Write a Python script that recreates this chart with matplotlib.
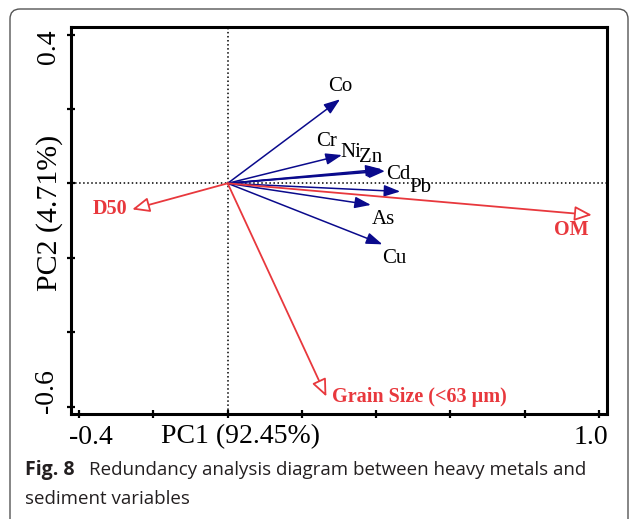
import matplotlib
matplotlib.use("Agg")
import matplotlib.pyplot as plt
from matplotlib.patches import FancyBboxPatch

# RDA loadings (PC1, PC2)
metals = ["Co", "Cr", "Ni", "Zn", "Cd", "Pb", "As", "Cu"]
metal_x = [0.303, 0.308, 0.415, 0.420, 0.424, 0.465, 0.386, 0.417]
metal_y = [0.226, 0.076, 0.038, 0.035, 0.033, -0.022, -0.058, -0.164]
# where the metal labels sit
metal_lx = [0.303, 0.266, 0.332, 0.386, 0.460, 0.520, 0.419, 0.449]
metal_ly = [0.260, 0.112, 0.084, 0.069, 0.023, -0.012, -0.096, -0.203]

env_vars = ["OM", "D50", "Grain Size (<63 \u00b5m)"]
env_x = [0.981, -0.257, 0.266]
env_y = [-0.085, -0.070, -0.573]
env_lx = [0.927, -0.318, 0.282]
env_ly = [-0.125, -0.070, -0.574]
env_ha = ["center", "center", "left"]

x_ticks = [-0.4, -0.2, 0.0, 0.2, 0.4, 0.6, 0.8, 1.0]
y_ticks = [-0.6, -0.4, -0.2, 0.0, 0.2, 0.4]

blue = "#0a0a8c"
red = "#e8383d"

fig = plt.figure(figsize=(6.3, 5.19), dpi=100)
ax = fig.add_axes([71 / 630, 105 / 519, 536 / 630, 387.3 / 519])
ax.set_xlim(-0.422, 1.022)
ax.set_ylim(-0.62, 0.421)

ax.axhline(0, color="black", ls=":", lw=1.1, zorder=1)
ax.axvline(0, color="black", ls=":", lw=1.1, zorder=1)

for name, x, y, lx, ly in zip(metals, metal_x, metal_y, metal_lx, metal_ly):
    ax.annotate("", xy=(x, y), xytext=(0, 0),
                arrowprops=dict(arrowstyle="-|>,head_length=0.7,head_width=0.25",
                                color=blue, lw=1.1, mutation_scale=14,
                                shrinkA=0, shrinkB=0))
    ax.text(lx, ly, name, ha="center", va="center", fontsize=15,
            family="Liberation Serif", color="black")

for name, x, y, lx, ly, ha in zip(env_vars, env_x, env_y, env_lx, env_ly, env_ha):
    ax.annotate("", xy=(x, y), xytext=(0, 0),
                arrowprops=dict(arrowstyle="-|>,head_length=0.7,head_width=0.3",
                                fc="white", ec=red, lw=1.3, mutation_scale=15,
                                shrinkA=0, shrinkB=0))
    ax.text(lx, ly, name, ha=ha, va="center", fontsize=14.5, fontweight="bold",
            family="Liberation Serif", color=red)

ax.set_xticks(x_ticks)
ax.set_yticks(y_ticks)
ax.set_xticklabels([])
ax.set_yticklabels([])
ax.tick_params(direction="inout", length=6, width=1.6, color="black")
for s in ax.spines.values():
    s.set_linewidth(2.2)

# tick labels only at the ends, nudged like the original
tk = dict(fontsize=20, family="Liberation Serif", ha="center", va="center")
ax.annotate("-0.4", xy=(x_ticks[0], 0), xycoords=("data", "axes fraction"),
            xytext=(12, -23), textcoords="offset pixels", **tk)
ax.annotate("1.0", xy=(x_ticks[-1], 0), xycoords=("data", "axes fraction"),
            xytext=(-8, -23), textcoords="offset pixels", **tk)
ax.annotate("0.4", xy=(0, y_ticks[-1]), xycoords=("axes fraction", "data"),
            xytext=(-23, -12), textcoords="offset pixels", rotation=90, **tk)
ax.annotate("-0.6", xy=(0, y_ticks[0]), xycoords=("axes fraction", "data"),
            xytext=(-24, 15), textcoords="offset pixels", rotation=90, **tk)

fig.text(241 / 630, 1 - 437 / 519, "PC1 (92.45%)", **tk)
fig.text(50 / 630, 1 - 212.5 / 519, "PC2 (4.71%)", rotation=90,
         fontsize=21.5, family="Liberation Serif", ha="center", va="center")

# caption and frame
fig.text(25 / 630, 1 - 470 / 519, "Fig. 8", fontsize=14, fontweight="bold",
         family="Open Sans", color="#231f20", va="center")
fig.text(89 / 630, 1 - 470 / 519, "Redundancy analysis diagram between heavy metals and",
         fontsize=13.5, family="Open Sans", color="#231f20", va="center")
fig.text(25 / 630, 1 - 499 / 519, "sediment variables",
         fontsize=13.5, family="Open Sans", color="#231f20", va="center")

frame = FancyBboxPatch((0.10, -0.2), 6.18, 5.3, boxstyle="round,pad=0,rounding_size=0.1",
                       transform=fig.dpi_scale_trans, fill=False, ec="#555555", lw=1.0)
fig.patches.append(frame)

fig.savefig("out.png", dpi=100)
